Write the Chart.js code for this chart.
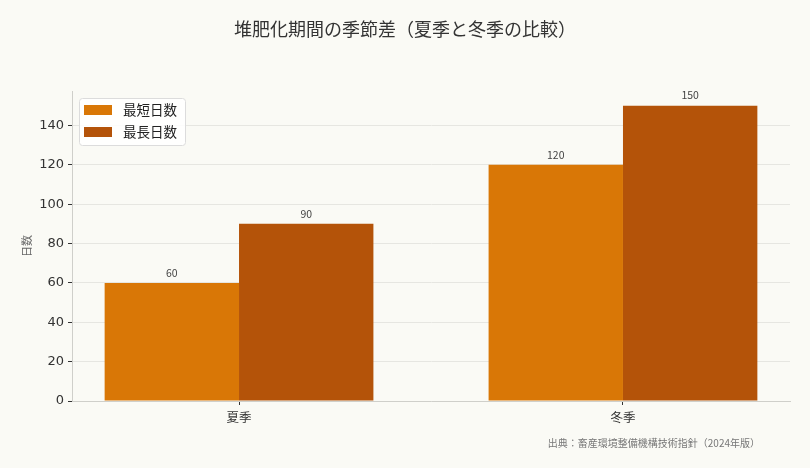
<!DOCTYPE html>
<html>
<head>
<meta charset="utf-8">
<script src="https://cdn.jsdelivr.net/npm/chart.js@4/dist/chart.umd.min.js"></script>
<style>
  html, body { margin: 0; padding: 0; background: #fafaf5; }
  #wrap { width: 810px; height: 468px; }
</style>
</head>
<body>
<div id="wrap"><canvas id="c" width="810" height="468"></canvas></div>
<script>
// data
const seasons = ['夏季', '冬季'];
const seriesNames = ['最短日数', '最長日数'];
const minDays = [60, 120];
const maxDays = [90, 150];
const yTicks = [0, 20, 40, 60, 80, 100, 120, 140];

const TITLE = '堆肥化期間の季節差（夏季と冬季の比較）';
const SOURCE = '出典：畜産環境整備機構技術指針（2024年版）';
const Y_TITLE = '日数';

const COLORS = { short: '#d97706', long: '#b45309', text: '#333333', grid: '#e6e6e1', axis: '#cfcfca' };
const JP = '"Noto Sans CJK JP", "DejaVu Sans", sans-serif';
const NUM = '"DejaVu Sans", sans-serif';

const toXY = arr => arr.map((v, i) => ({ x: i, y: v }));

// title, source, legend box and value labels
const decor = {
  id: 'decor',
  afterDatasetsDraw(chart) {
    const { ctx } = chart;
    ctx.save();
    ctx.font = '10.5px ' + JP;
    ctx.fillStyle = '#444';
    ctx.textAlign = 'center';
    ctx.textBaseline = 'bottom';
    chart.data.datasets.forEach((ds, di) => {
      chart.getDatasetMeta(di).data.forEach((bar, i) => {
        ctx.fillText(String(ds.data[i].y), bar.x, bar.y - 5);
      });
    });
    ctx.restore();
  },
  afterDraw(chart) {
    const { ctx, chartArea } = chart;
    ctx.save();
    // title
    ctx.fillStyle = COLORS.text;
    ctx.font = '18px ' + JP;
    ctx.textAlign = 'center';
    ctx.textBaseline = 'middle';
    ctx.fillText(TITLE, 405, 29);
    // source
    ctx.fillStyle = '#777';
    ctx.font = '10px ' + JP;
    ctx.textAlign = 'right';
    ctx.fillText(SOURCE, 760, 443);
    // legend
    const lx = chartArea.left + 7, ly = chartArea.top + 7, lw = 106, lh = 47;
    ctx.fillStyle = 'rgba(255,255,255,0.85)';
    ctx.strokeStyle = '#dcdcdc';
    ctx.lineWidth = 1;
    ctx.beginPath();
    ctx.roundRect(lx + 0.5, ly + 0.5, lw, lh, 3);
    ctx.fill();
    ctx.stroke();
    ctx.font = '13.5px ' + JP;
    ctx.textAlign = 'left';
    chart.data.datasets.forEach((ds, i) => {
      const y = ly + 7 + i * 22;
      ctx.fillStyle = ds.backgroundColor;
      ctx.fillRect(lx + 5, y, 28, 10);
      ctx.fillStyle = '#222';
      ctx.fillText(ds.label, lx + 44, y + 5);
    });
    ctx.restore();
  }
};

new Chart(document.getElementById('c'), {
  type: 'bar',
  data: {
    datasets: [
      { label: seriesNames[0], data: toXY(minDays), backgroundColor: COLORS.short },
      { label: seriesNames[1], data: toXY(maxDays), backgroundColor: COLORS.long }
    ]
  },
  options: {
    responsive: false,
    animation: false,
    devicePixelRatio: 1,
    categoryPercentage: 0.7,
    barPercentage: 1.0,
    layout: { padding: { top: 91, right: 20, bottom: 0, left: 0 } },
    plugins: { legend: { display: false }, tooltip: { enabled: false } },
    scales: {
      x: {
        type: 'linear',
        min: -0.435,
        max: 1.435,
        offset: false,
        afterBuildTicks: s => { s.ticks = seasons.map((_, i) => ({ value: i })); },
        afterFit: s => { s.height = 67; },
        ticks: {
          callback: v => seasons[v],
          font: { family: JP, size: 12.5 },
          color: COLORS.text,
          padding: 5
        },
        grid: { offset: false, drawOnChartArea: false, tickColor: '#333', tickLength: 4 },
        border: { color: COLORS.axis }
      },
      y: {
        min: 0,
        max: 157.5,
        afterBuildTicks: s => { s.ticks = yTicks.map(v => ({ value: v })); },
        afterFit: s => { s.width = 72; },
        ticks: {
          font: { family: NUM, size: 13 },
          color: COLORS.text,
          padding: 4
        },
        title: {
          display: true,
          text: Y_TITLE,
          font: { family: JP, size: 11 },
          color: '#666',
          padding: { top: 20, bottom: 0 }
        },
        grid: { color: COLORS.grid, tickColor: '#333', tickLength: 4 },
        border: { color: COLORS.axis }
      }
    }
  },
  plugins: [decor]
});
</script>
</body>
</html>
